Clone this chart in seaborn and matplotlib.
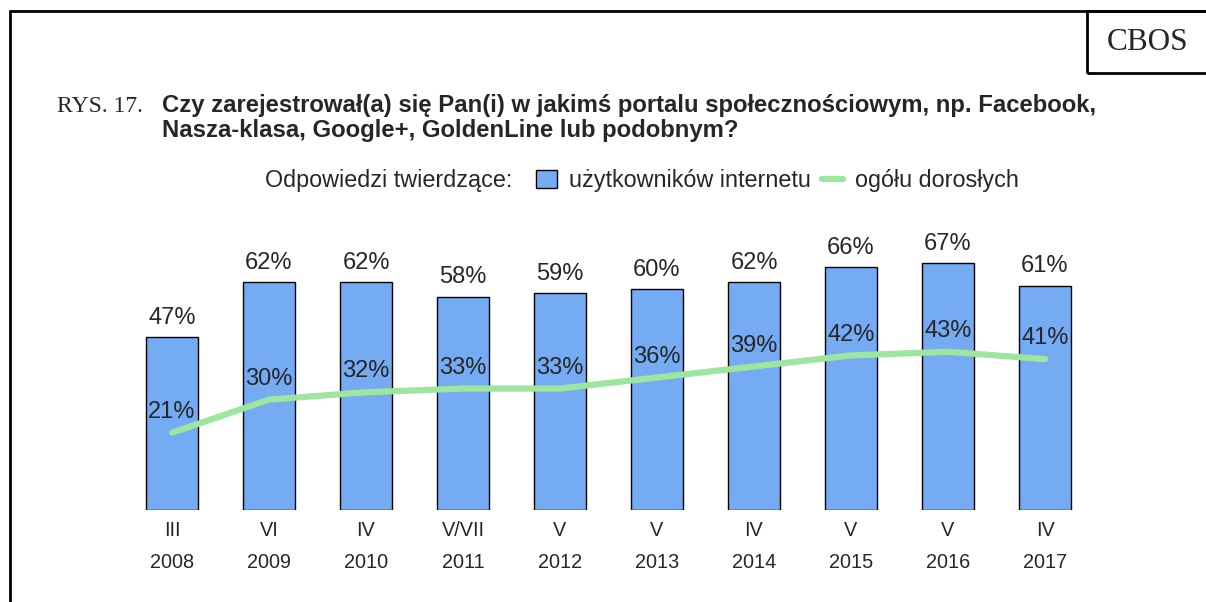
import matplotlib
matplotlib.use("Agg")
import matplotlib.pyplot as plt
from matplotlib.lines import Line2D
from matplotlib.patches import Patch, Rectangle
import seaborn as sns
import numpy as np
import pandas as pd

months = ["III", "VI", "IV", "V/VII", "V", "V", "IV", "V", "V", "IV"]
years = ["2008", "2009", "2010", "2011", "2012", "2013", "2014", "2015", "2016", "2017"]
internet_users = [47, 62, 62, 58, 59, 60, 62, 66, 67, 61]
all_adults = [21, 30, 32, 33, 33, 36, 39, 42, 43, 41]

tick_labels = [f"{m}\n{y}" for m, y in zip(months, years)]
df = pd.DataFrame({"label": tick_labels, "users": internet_users,
                   "adults": all_adults, "pos": np.arange(len(years))})

sns.set_theme(style="white")
plt.rcParams['font.family'] = ['Liberation Sans', 'DejaVu Sans']

W, H = 1206, 602
fig = plt.figure(figsize=(W / 100, H / 100), dpi=100)

bar_color = "#74ABF3"
line_color = "#9DE69D"

ax = fig.add_axes([123.5 / W, (H - 510) / H, 970 / W, 294.4 / H])
sns.barplot(data=df, x="label", y="users", color=bar_color, saturation=1,
            width=0.546, edgecolor="black", linewidth=1, ax=ax)
sns.lineplot(data=df, x="pos", y="adults", color=line_color, linewidth=4.5,
             solid_capstyle="round", ax=ax, legend=False)
ax.set_xlim(-0.5, len(years) - 0.5)
ax.set_ylim(0, 80)
ax.set_xlabel("")
ax.set_ylabel("")
ax.set_yticks([])
for s in ax.spines.values():
    s.set_visible(False)
ax.tick_params(axis="x", length=0, pad=8, labelsize=14.3)
for t in ax.get_xticklabels():
    t.set_linespacing(1.88)
ax.patch.set_alpha(0)

for i, (u, a) in enumerate(zip(internet_users, all_adults)):
    ax.annotate(f"{u}%", (i, u), xytext=(0, 13.8), textcoords="offset points",
                ha="center", va="center", fontsize=17)
    ax.annotate(f"{a}%", (i, a), xytext=(0, 15), textcoords="offset points",
                ha="center", va="center", fontsize=17)

# frame
fig.add_artist(Line2D([10 / W, 10 / W], [0, 1 - 11 / H], color="black", lw=2))
fig.add_artist(Line2D([10 / W, 1], [1 - 11 / H, 1 - 11 / H], color="black", lw=2))
fig.add_artist(Rectangle((1087 / W, 1 - 73 / H), 200 / W, 62 / H, fill=False,
                         edgecolor="black", lw=2, transform=fig.transFigure))
fig.text(1148 / W, 1 - 43 / H, "CBOS", family="Liberation Serif", fontsize=22.5,
         ha="center", va="center")

fig.text(57 / W, 1 - 112 / H, "RYS. 17.", family="Liberation Serif", fontsize=17,
         ha="left", va="baseline")
fig.text(162 / W, 1 - 112 / H,
         "Czy zarejestrował(a) się Pan(i) w jakimś portalu społecznościowym, np. Facebook,",
         fontsize=17.2, fontweight="bold", ha="left", va="baseline")
fig.text(162 / W, 1 - 137 / H, "Nasza-klasa, Google+, GoldenLine lub podobnym?",
         fontsize=17.2, fontweight="bold", ha="left", va="baseline")

fig.text(265 / W, 1 - 181 / H, "Odpowiedzi twierdzące:", fontsize=16.8,
         ha="left", va="center")
handles = [Patch(facecolor=bar_color, edgecolor="black", lw=1),
           Line2D([], [], color=line_color, lw=4.5, solid_capstyle="round")]
fig.legend(handles, ["użytkowników internetu", "ogółu dorosłych"],
           loc="center left", bbox_to_anchor=(536 / W, 1 - 181 / H), ncol=2,
           frameon=False, fontsize=16.8, handlelength=0.9, handleheight=0.8,
           handletextpad=0.5, columnspacing=0.5, borderaxespad=0, borderpad=0)

fig.savefig("out.png", dpi=100)
